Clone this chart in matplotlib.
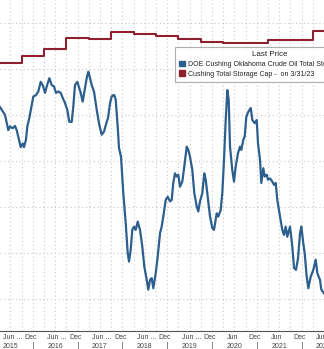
import matplotlib
matplotlib.use('Agg')
import matplotlib.pyplot as plt
import matplotlib.transforms as mtransforms
from matplotlib.patches import Patch

plt.rcParams['font.family'] = ['Liberation Sans Narrow', 'Liberation Sans', 'DejaVu Sans']

# weekly Cushing crude stocks, million barrels (decimal year, value)
stock_years = [
    2015.270, 2015.382, 2015.455, 2015.493, 2015.554, 2015.605, 2015.643, 2015.694,
    2015.732, 2015.777, 2015.806, 2015.850, 2015.880, 2015.924, 2015.978, 2016.013,
    2016.074, 2016.125, 2016.179, 2016.223, 2016.275, 2016.313, 2016.371, 2016.424,
    2016.475, 2016.520, 2016.571, 2016.625, 2016.670, 2016.721, 2016.772, 2016.817,
    2016.871, 2016.906, 2016.944, 2016.996, 2017.040, 2017.071, 2017.116, 2017.167,
    2017.205, 2017.241, 2017.263, 2017.317, 2017.368, 2017.429, 2017.487, 2017.540,
    2017.592, 2017.652, 2017.681, 2017.725, 2017.763, 2017.792, 2017.821, 2017.853,
    2017.897, 2017.926, 2017.971, 2018.022, 2018.076, 2018.121, 2018.150, 2018.188,
    2018.223, 2018.261, 2018.299, 2018.344, 2018.395, 2018.446, 2018.491, 2018.545,
    2018.580, 2018.618, 2018.656, 2018.692, 2018.746, 2018.790, 2018.842, 2018.879,
    2018.915, 2018.969, 2019.013, 2019.065, 2019.103, 2019.138, 2019.176, 2019.214,
    2019.250, 2019.288, 2019.339, 2019.384, 2019.438, 2019.473, 2019.511, 2019.563,
    2019.607, 2019.661, 2019.696, 2019.734, 2019.786, 2019.830, 2019.862, 2019.906,
    2019.958, 2020.009, 2020.047, 2020.107, 2020.143, 2020.196, 2020.232, 2020.270,
    2020.308, 2020.344, 2020.375, 2020.404, 2020.455, 2020.493, 2020.531, 2020.583,
    2020.627, 2020.656, 2020.701, 2020.732, 2020.768, 2020.813, 2020.866, 2020.902,
    2020.955, 2021.000, 2021.029, 2021.074, 2021.103, 2021.147, 2021.179, 2021.223,
    2021.252, 2021.297, 2021.348, 2021.386, 2021.424, 2021.460, 2021.520, 2021.571,
    2021.609, 2021.647, 2021.683, 2021.743, 2021.795, 2021.833, 2021.877, 2021.922,
    2021.967, 2021.996, 2022.040, 2022.071, 2022.116, 2022.152, 2022.205, 2022.263,
    2022.317, 2022.353, 2022.413, 2022.442, 2022.502,
]
stock_values = [
    61.7, 60.0, 56.7, 57.5, 57.1, 57.6, 56.7, 54.6,
    53.0, 53.8, 53.0, 54.6, 57.5, 59.3, 62.2, 64.0,
    64.3, 65.1, 67.2, 66.5, 64.8, 66.2, 68.0, 66.5,
    66.2, 64.8, 65.1, 64.8, 63.7, 62.6, 61.1, 58.5,
    58.5, 61.8, 66.5, 67.2, 65.8, 64.8, 62.9, 65.9,
    68.0, 69.4, 68.7, 66.5, 65.1, 61.1, 57.8, 55.7,
    56.4, 58.5, 59.3, 62.5, 64.0, 64.3, 64.3, 63.3,
    57.5, 52.8, 50.9, 43.0, 36.5, 29.9, 28.1, 30.7,
    35.0, 35.7, 35.0, 36.8, 35.0, 31.4, 27.0, 24.1,
    22.0, 24.1, 24.5, 22.3, 25.6, 29.2, 34.3, 35.7,
    37.9, 41.5, 42.2, 41.2, 41.5, 45.2, 47.3, 46.6,
    47.0, 44.4, 45.5, 48.8, 53.1, 52.4, 50.9, 48.0,
    43.0, 40.1, 39.0, 41.2, 43.0, 47.3, 45.9, 42.2,
    37.9, 35.4, 35.0, 38.6, 37.9, 39.3, 43.0, 50.2,
    58.9, 65.4, 63.3, 53.1, 48.0, 45.5, 48.8, 51.7,
    53.1, 52.4, 54.6, 55.3, 59.6, 60.7, 61.5, 58.9,
    58.2, 58.9, 53.8, 50.2, 45.2, 48.4, 46.6, 47.0,
    45.9, 46.2, 45.5, 44.8, 45.2, 41.5, 37.9, 35.0,
    33.9, 35.7, 33.5, 35.7, 31.4, 26.7, 26.3, 28.8,
    34.3, 35.7, 32.1, 29.9, 24.8, 22.3, 24.8, 26.3,
    28.5, 25.6, 24.1, 22.0, 21.2,
]

# semiannual working storage capacity (report date, million barrels)
cap_years = [2015.27, 2015.75, 2016.25, 2016.75, 2017.25, 2017.75, 2018.25,
             2018.75, 2019.25, 2019.75, 2020.25, 2021.25, 2022.25, 2022.51]
cap_values = [71.2, 72.8, 74.3, 76.8, 76.5, 78.0, 77.5,
              77.2, 76.6, 75.9, 75.6, 76.4, 78.3, 78.3]

years = [2015, 2016, 2017, 2018, 2019, 2020, 2021, 2022]
jun_labels = ['Jun ...', 'Jun ...', 'Jun ...', 'Jun ...', 'Jun ...', 'Jun', 'Jun', 'Jun']
dec_labels = ['Dec'] * 8

blue = '#2d5f8e'
red = '#8e1f2f'
txt = '#444444'

fig = plt.figure(figsize=(3.24, 3.49), dpi=100)
ax = fig.add_axes([0, 18 / 349, 1, 331 / 349])

ax.plot(stock_years, stock_values, color=blue, linewidth=1.6, zorder=3)
ax.step(cap_years, cap_values, where='post', color=red, linewidth=1.5, zorder=3)

ax.set_xlim(2015.270, 2022.502)
ax.set_ylim(13.0, 85.0)

# quarterly dotted vertical grid, dotted horizontal grid every 10 mb
quarters = [y + q / 4 for y in range(2015, 2023) for q in range(4)]
for q in quarters:
    ax.axvline(q, color='#c8c8c8', linestyle=(0, (1, 2.5)), linewidth=0.8, zorder=1)
for lvl in range(20, 90, 10):
    ax.axhline(lvl, color='#c8c8c8', linestyle=(0, (1, 2.5)), linewidth=0.8, zorder=1)

ax.set_xticks([])
ax.set_yticks([])
for side in ['left', 'right', 'top']:
    ax.spines[side].set_visible(False)
ax.spines['bottom'].set_color('#555555')
ax.spines['bottom'].set_linewidth(0.8)

trans = mtransforms.blended_transform_factory(ax.transData, ax.transAxes)
for i, yr in enumerate(years):
    if '...' in jun_labels[i]:
        ax.text(yr + 0.33, -0.008, jun_labels[i], transform=trans, ha='left',
                va='top', fontsize=5.0, color=txt, clip_on=False)
    else:
        ax.text(yr + 0.455, -0.008, jun_labels[i], transform=trans,
                ha='center', va='top', fontsize=5.0, color=txt, clip_on=False)
    ax.text(yr + 0.955, -0.008, dec_labels[i], transform=trans, ha='center',
            va='top', fontsize=5.0, color=txt, clip_on=False)
    ax.text(yr + 0.5, -0.036, str(yr), transform=trans, ha='center', va='top',
            fontsize=5.0, color=txt, clip_on=False)
    ax.plot([yr, yr], [-0.033, -0.06], transform=trans, color='#888888',
            linewidth=0.7, clip_on=False)

handles = [Patch(facecolor=blue, edgecolor=blue),
           Patch(facecolor=red, edgecolor=red)]
labels = ['DOE Cushing Oklahoma Crude Oil Total Stocks    21.2',
          'Cushing Total Storage Cap -  on 3/31/23         78.3']
leg = ax.legend(handles, labels, title='Last Price', loc='upper left',
                bbox_to_anchor=(175 / 324, 1 - 47 / 331), fontsize=5.0,
                title_fontsize=5.8, frameon=True, fancybox=False,
                handlelength=0.9, handleheight=0.9, handletextpad=0.4,
                borderpad=0.6, labelspacing=0.35, borderaxespad=0)
leg.get_frame().set_edgecolor('#9a9a9a')
leg.get_frame().set_linewidth(0.8)
leg.set_zorder(5)
for t in leg.get_texts():
    t.set_color('#222222')
leg.get_title().set_color('#222222')

fig.savefig('out.png', dpi=100)
